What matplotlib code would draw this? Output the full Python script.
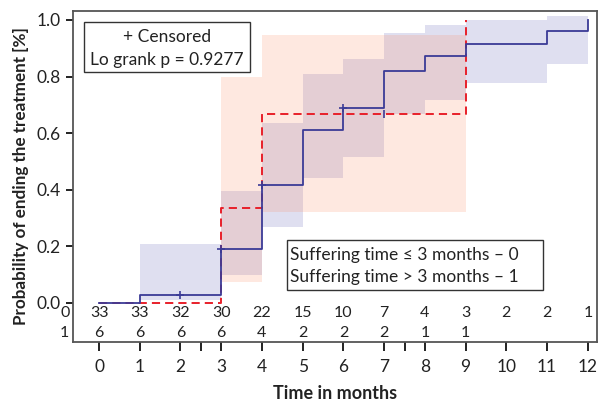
import matplotlib
matplotlib.use("Agg")
import matplotlib.pyplot as plt
from matplotlib.patches import Rectangle

plt.rcParams['font.family'] = ['Lato', 'DejaVu Sans']

# Group 0 (suffering time <= 3 months) KM estimate
t0 = [0, 1, 3, 4, 5, 6, 7, 8, 9, 11, 12]
s0 = [0.0, 0.028, 0.192, 0.415, 0.611, 0.690, 0.821, 0.873, 0.915, 0.961, 1.0]
# Group 0 confidence band
ci0_t = [1, 3, 4, 5, 6, 7, 8, 9, 11, 12]
ci0_lo = [0.011, 0.099, 0.270, 0.443, 0.517, 0.668, 0.717, 0.778, 0.844, 0.844]
ci0_hi = [0.208, 0.396, 0.635, 0.810, 0.862, 0.955, 0.982, 1.000, 1.013, 1.013]

# Group 1 (suffering time > 3 months) KM estimate
t1 = [0, 3, 4, 9]
s1 = [0.0, 0.337, 0.668, 1.0]
ci1_t = [3, 4, 9]
ci1_lo = [0.075, 0.323, 0.323]
ci1_hi = [0.800, 0.947, 0.947]

# censored observations
cens0_t = [2, 3, 4, 6]
cens0_s = [0.028, 0.192, 0.415, 0.690]
cens1_t = [7]
cens1_s = [0.668]

# numbers at risk
risk_times = [0, 1, 2, 3, 4, 5, 6, 7, 8, 9, 10, 11, 12]
risk0 = ['33', '33', '32', '30', '22', '15', '10', '7', '4', '3', '2', '2', '1']
risk1 = ['6', '6', '6', '6', '4', '2', '2', '2', '1', '1', '', '', '']
group_labels = ['0', '1']

xticks = list(range(0, 13))
extra_ticks = [2.5, 7.5]
yticks = [0.0, 0.2, 0.4, 0.6, 0.8, 1.0]

blue = '#3b3b96'
red = '#e8202a'
txt = '#222222'

fig = plt.figure(figsize=(5.98, 4.01), dpi=100)
ax = fig.add_axes([0.122, 0.147, 0.876, 0.826])

ax.fill_between(ci0_t, ci0_lo, ci0_hi, step='post', color=(0.39, 0.39, 0.71), alpha=0.2, linewidth=0)
ax.fill_between(ci1_t, ci1_lo, ci1_hi, step='post', color=(0.98, 0.55, 0.40), alpha=0.2, linewidth=0)

ax.step(t1, s1, where='post', color=red, lw=1.4, dashes=(4.2, 2.6))
ax.step(t0, s0, where='post', color=blue, lw=1.3)
ax.plot(cens0_t, cens0_s, '+', color=blue, ms=6, mew=1.2)
ax.plot(cens1_t, cens1_s, '|', color=blue, ms=6, mew=1.2)

ax.set_xlim(-0.64, 12.22)
ax.set_ylim(-0.138, 1.032)

ax.set_xticks(xticks + extra_ticks)
ax.set_xticklabels([str(x) for x in xticks] + ['', ''])
ax.set_yticks(yticks)
ax.set_yticklabels(['%.1f' % y for y in yticks])
ax.tick_params(axis='both', direction='out', length=5, width=1.4, colors=txt, labelsize=12.5)
ax.tick_params(axis='x', length=6.5, pad=6)
ax.tick_params(axis='y', pad=4)
for sp in ax.spines.values():
    sp.set_color('#555555')
    sp.set_linewidth(1.3)

# risk table
for x, a, b in zip(risk_times, risk0, risk1):
    ax.text(x, -0.035, a, ha='center', va='center', fontsize=11.5, color=txt)
    ax.text(x, -0.106, b, ha='center', va='center', fontsize=11.5, color=txt)
ax.text(-0.84, -0.035, group_labels[0], ha='center', va='center', fontsize=11.5, color=txt, clip_on=False)
ax.text(-0.84, -0.106, group_labels[1], ha='center', va='center', fontsize=11.5, color=txt, clip_on=False)

ax.set_xlabel('Time in months', fontsize=13, fontweight='bold', labelpad=7, color=txt)
ax.set_ylabel('Probability of ending the treatment [%]', fontsize=12.3, fontweight='bold', labelpad=5, color=txt)

# annotation boxes
ax.add_patch(Rectangle((0.021, 0.816), 0.317, 0.151, transform=ax.transAxes,
                       fill=True, facecolor='white', edgecolor='#333333', lw=1.0, zorder=5))
ax.text(0.179, 0.920, '+ Censored', transform=ax.transAxes, ha='center', va='center', fontsize=12.5, zorder=6, color=txt)
ax.text(0.179, 0.852, 'Lo grank p = 0.9277', transform=ax.transAxes, ha='center', va='center', fontsize=12.5, zorder=6, color=txt)

ax.add_patch(Rectangle((0.409, 0.157), 0.488, 0.151, transform=ax.transAxes,
                       fill=True, facecolor='white', edgecolor='#333333', lw=1.0, zorder=5))
ax.text(0.415, 0.262, 'Suffering time \u2264 3 months \u2013 0', transform=ax.transAxes, ha='left', va='center', fontsize=12.5, zorder=6, color=txt)
ax.text(0.415, 0.196, 'Suffering time > 3 months \u2013 1', transform=ax.transAxes, ha='left', va='center', fontsize=12.5, zorder=6, color=txt)

fig.savefig('out.png', dpi=100)
